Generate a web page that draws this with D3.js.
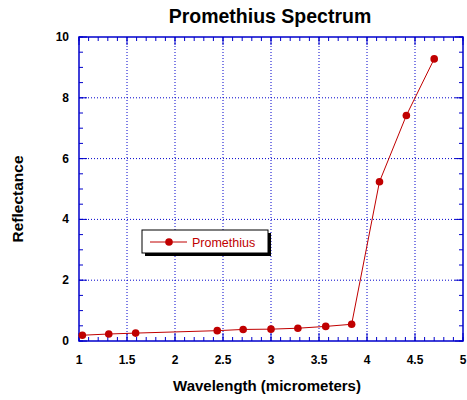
<!DOCTYPE html>
<html>
<head>
<meta charset="utf-8">
<script src="https://cdn.jsdelivr.net/npm/d3@7"></script>
<style>
  body { margin: 0; background: #fff; }
  text { font-family: "Liberation Sans", Arial, sans-serif; }
</style>
</head>
<body>
<script>
// data
var wavelength = [1.035, 1.31, 1.59, 2.44, 2.71, 3.0, 3.28, 3.57, 3.84, 4.13, 4.41, 4.70];
var reflectance = [0.19, 0.23, 0.26, 0.34, 0.38, 0.39, 0.42, 0.48, 0.55, 5.24, 7.42, 9.28];
var xTicks = [1, 1.5, 2, 2.5, 3, 3.5, 4, 4.5, 5];
var yTicks = [0, 2, 4, 6, 8, 10];
var seriesName = "Promethius";

var W = 467, H = 400;
var margin = {top: 37, right: 4, bottom: 59, left: 79};
var width = W - margin.left - margin.right;
var height = H - margin.top - margin.bottom;
var blue = "#0000cc", red = "#c00000";

var svg = d3.select("body").append("svg").attr("width", W).attr("height", H);
var g = svg.append("g").attr("transform", "translate(" + margin.left + "," + margin.top + ")");

var x = d3.scaleLinear().domain([1, 5]).range([0, width]);
var y = d3.scaleLinear().domain([0, 10]).range([height, 0]);

// grid
g.selectAll(".gx").data(xTicks.slice(1, -1)).enter().append("line")
  .attr("x1", function(d) { return x(d); }).attr("x2", function(d) { return x(d); })
  .attr("y1", 0).attr("y2", height)
  .attr("stroke", blue).attr("stroke-dasharray", "1,2").attr("stroke-width", 1);
g.selectAll(".gy").data(yTicks.slice(1, -1)).enter().append("line")
  .attr("y1", function(d) { return y(d); }).attr("y2", function(d) { return y(d); })
  .attr("x1", 0).attr("x2", width)
  .attr("stroke", blue).attr("stroke-dasharray", "1,2").attr("stroke-width", 1);

// minor ticks inside on all four sides
var xMinor = d3.range(1, 5.001, 0.1);
var yMinor = d3.range(0, 10.001, 0.5);
function ticksX(vals, len, y0, dir) {
  g.append("g").selectAll("line").data(vals).enter().append("line")
    .attr("x1", function(d) { return x(d); }).attr("x2", function(d) { return x(d); })
    .attr("y1", y0).attr("y2", y0 + dir * len)
    .attr("stroke", blue).attr("stroke-width", 1);
}
function ticksY(vals, len, x0, dir) {
  g.append("g").selectAll("line").data(vals).enter().append("line")
    .attr("y1", function(d) { return y(d); }).attr("y2", function(d) { return y(d); })
    .attr("x1", x0).attr("x2", x0 + dir * len)
    .attr("stroke", blue).attr("stroke-width", 1);
}
ticksX(xMinor, 4, height, -1);
ticksX(xMinor, 4, 0, 1);
ticksX(xTicks, 8, height, -1);
ticksX(xTicks, 8, 0, 1);
ticksY(yMinor, 4, 0, 1);
ticksY(yMinor, 4, width, -1);
ticksY(yTicks, 8, 0, 1);
ticksY(yTicks, 8, width, -1);

// frame
g.append("rect").attr("width", width).attr("height", height)
  .attr("fill", "none").attr("stroke", blue).attr("stroke-width", 1.5);

// tick labels
g.selectAll(".xl").data(xTicks).enter().append("text")
  .attr("x", function(d) { return x(d); }).attr("y", height + 23)
  .attr("text-anchor", "middle").attr("font-size", 12).attr("font-weight", "bold")
  .text(function(d) { return d; });
g.selectAll(".yl").data(yTicks).enter().append("text")
  .attr("x", -10).attr("y", function(d) { return y(d) + 4; })
  .attr("text-anchor", "end").attr("font-size", 12).attr("font-weight", "bold")
  .text(function(d) { return d; });

// series
var pts = wavelength.map(function(d, i) { return [d, reflectance[i]]; });
g.append("path").datum(pts)
  .attr("d", d3.line().x(function(d) { return x(d[0]); }).y(function(d) { return y(d[1]); }))
  .attr("fill", "none").attr("stroke", red).attr("stroke-width", 1);
g.selectAll(".pt").data(pts).enter().append("circle")
  .attr("cx", function(d) { return x(d[0]); }).attr("cy", function(d) { return y(d[1]); })
  .attr("r", 3.8).attr("fill", red);

// titles
svg.append("text").attr("x", 270).attr("y", 23).attr("text-anchor", "middle")
  .attr("font-size", 19.5).attr("font-weight", "bold").text("Promethius Spectrum");
svg.append("text").attr("x", 267).attr("y", 391).attr("text-anchor", "middle")
  .attr("font-size", 15).attr("font-weight", "bold").text("Wavelength (micrometers)");
svg.append("text").attr("transform", "translate(23,199) rotate(-90)").attr("text-anchor", "middle")
  .attr("font-size", 15.5).attr("font-weight", "bold").text("Reflectance");

// legend
var leg = svg.append("g").attr("transform", "translate(142,230)");
leg.append("rect").attr("x", 3).attr("y", 3).attr("width", 126).attr("height", 23).attr("fill", "#000");
leg.append("rect").attr("width", 126).attr("height", 23).attr("fill", "#fff").attr("stroke", "#000").attr("stroke-width", 1);
leg.append("line").attr("x1", 8).attr("x2", 45).attr("y1", 12).attr("y2", 12).attr("stroke", red);
leg.append("circle").attr("cx", 27).attr("cy", 12).attr("r", 3.8).attr("fill", red);
leg.append("text").attr("x", 50).attr("y", 17).attr("font-size", 12.5).attr("fill", red).text(seriesName);
</script>
</body>
</html>
